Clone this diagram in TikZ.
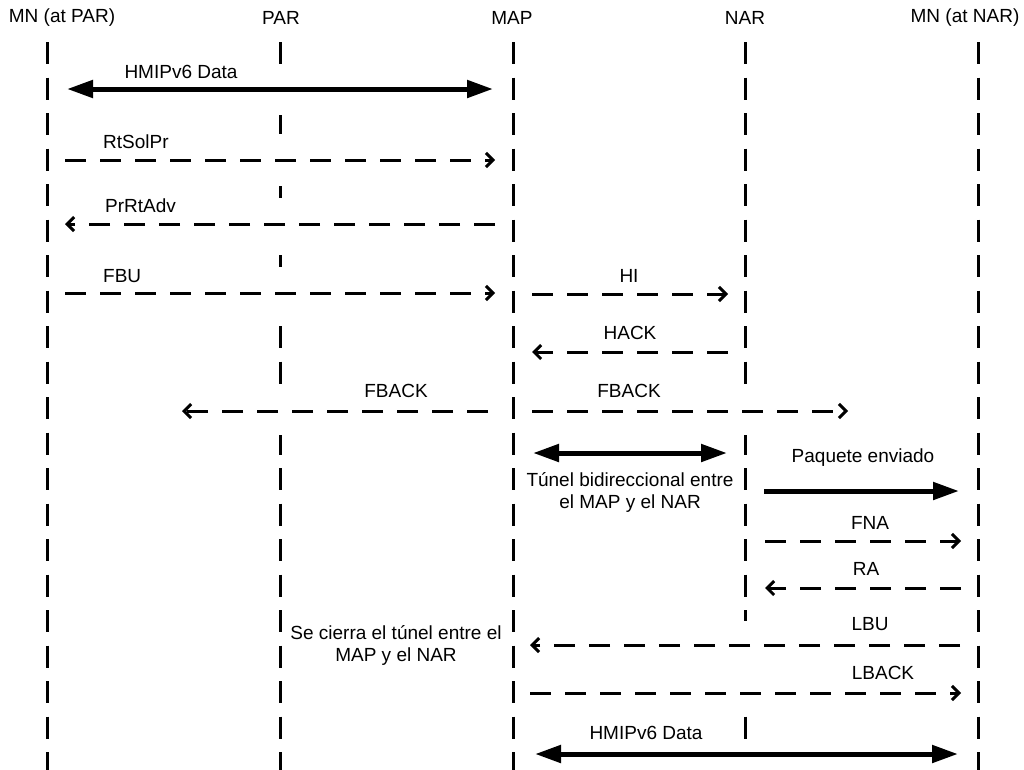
\documentclass[tikz,border=0pt]{standalone}
\usepackage{fontspec}
\setmainfont{Liberation Sans}
\usetikzlibrary{arrows.meta}
\begin{document}
\begin{tikzpicture}[x=1pt,y=-1pt,
  every node/.style={inner sep=0pt,font=\fontsize{19}{22}\selectfont},
  head/.style={anchor=center},
  life/.style={line width=3pt,dash pattern=on 22pt off 13.5pt},
  msg/.style={line width=3pt,dash pattern=on 21pt off 14pt,
    -{Straight Barb[length=7pt,width=14pt]}},
  bulk/.style={line width=5pt,-{Triangle[length=26pt,width=17pt]}},
  bulk2/.style={line width=5pt,{Triangle[length=26pt,width=17pt]}-{Triangle[length=26pt,width=17pt]}},
  cover/.style={fill=white,draw=none},
  lbl/.style={anchor=center},
  note/.style={align=center,anchor=center}]
\useasboundingbox (0,0) rectangle (1024,769);

% headers
\node[head] (hA) at (62,18) {MN (at PAR)};
\node[head] (hB) at (281,18) {PAR};
\node[head] (hC) at (512,18) {MAP};
\node[head] (hD) at (745,18) {NAR};
\node[head] (hE) at (965,18) {MN (at NAR)};

% lifelines
\foreach \n/\x in {A/47,B/280,C/513,D/745,E/978}{
  \coordinate (t\n) at (\x,42);
  \coordinate (b\n) at (\x,775);
  \draw[life] (t\n) -- (b\n);
}

% message end points
\coordinate (m1a) at (67,89);   \coordinate (m1b) at (493,89);
\coordinate (m2a) at (65,160);  \coordinate (m2b) at (495,160);
\coordinate (m3a) at (495,224); \coordinate (m3b) at (65,224);
\coordinate (m4a) at (65,293);  \coordinate (m4b) at (495,293);
\coordinate (m5a) at (532,294); \coordinate (m5b) at (728,294);
\coordinate (m6a) at (728,352); \coordinate (m6b) at (532,352);
\coordinate (m7a) at (488,411); \coordinate (m7b) at (182,411);
\coordinate (m8a) at (532,411); \coordinate (m8b) at (848,411);
\coordinate (m9a) at (533,453); \coordinate (m9b) at (727,453);
\coordinate (m10a) at (764,491); \coordinate (m10b) at (959,491);
\coordinate (m11a) at (765,541); \coordinate (m11b) at (961,541);
\coordinate (m12a) at (961,588); \coordinate (m12b) at (765,588);
\coordinate (m13a) at (960,645); \coordinate (m13b) at (530,645);
\coordinate (m14a) at (530,693); \coordinate (m14b) at (961,693);
\coordinate (m15a) at (535,754); \coordinate (m15b) at (958,754);

% message areas hide the lifelines they cross
\fill[cover] (67,68) rectangle (493,115);
\fill[cover] (65,134) rectangle (495,186);
\fill[cover] (65,198) rectangle (495,250);
\fill[cover] (65,267) rectangle (495,319);
\fill[cover] (182,387) rectangle (488,435);
\fill[cover] (532,387) rectangle (848,435);
\fill[cover] (530,621) rectangle (960,669);
\fill[cover] (530,669) rectangle (961,716);
\fill[cover] (535,740) rectangle (958,775);

% messages
\draw[bulk2] (m1a) -- (m1b);
\node[lbl] (l1) at (181,72) {HMIPv6 Data};
\draw[msg] (m2a) -- (m2b);
\node[anchor=west] (l2) at (103,142) {RtSolPr};
\draw[msg] (m3a) -- (m3b);
\node[anchor=west] (l3) at (105,206) {PrRtAdv};
\draw[msg] (m4a) -- (m4b);
\node[anchor=west] (l4) at (103,276) {FBU};
\draw[msg] (m5a) -- (m5b);
\node[lbl] (l5) at (629,276) {HI};
\draw[msg] (m6a) -- (m6b);
\node[lbl] (l6) at (630,333) {HACK};
\draw[msg] (m7a) -- (m7b);
\node[lbl] (l7) at (396,391) {FBACK};
\draw[msg] (m8a) -- (m8b);
\node[lbl] (l8) at (629,391) {FBACK};
\draw[bulk2] (m9a) -- (m9b);
\node[note] (l9) at (630,492) {Túnel bidireccional entre\\el MAP y el NAR};
\draw[bulk] (m10a) -- (m10b);
\node[lbl] (l10) at (863,458) {Paquete enviado};
\draw[msg] (m11a) -- (m11b);
\node[lbl] (l11) at (870,523) {FNA};
\draw[msg] (m12a) -- (m12b);
\node[lbl] (l12) at (866,569) {RA};
\draw[msg] (m13a) -- (m13b);
\node[lbl] (l13) at (870,624) {LBU};
\draw[msg] (m14a) -- (m14b);
\node[lbl] (l14) at (883,673) {LBACK};
\draw[bulk2] (m15a) -- (m15b);
\node[lbl] (l15) at (646,733) {HMIPv6 Data};
\node[note] (l16) at (396,645) {Se cierra el túnel entre el\\MAP y el NAR};
\end{tikzpicture}
\end{document}
